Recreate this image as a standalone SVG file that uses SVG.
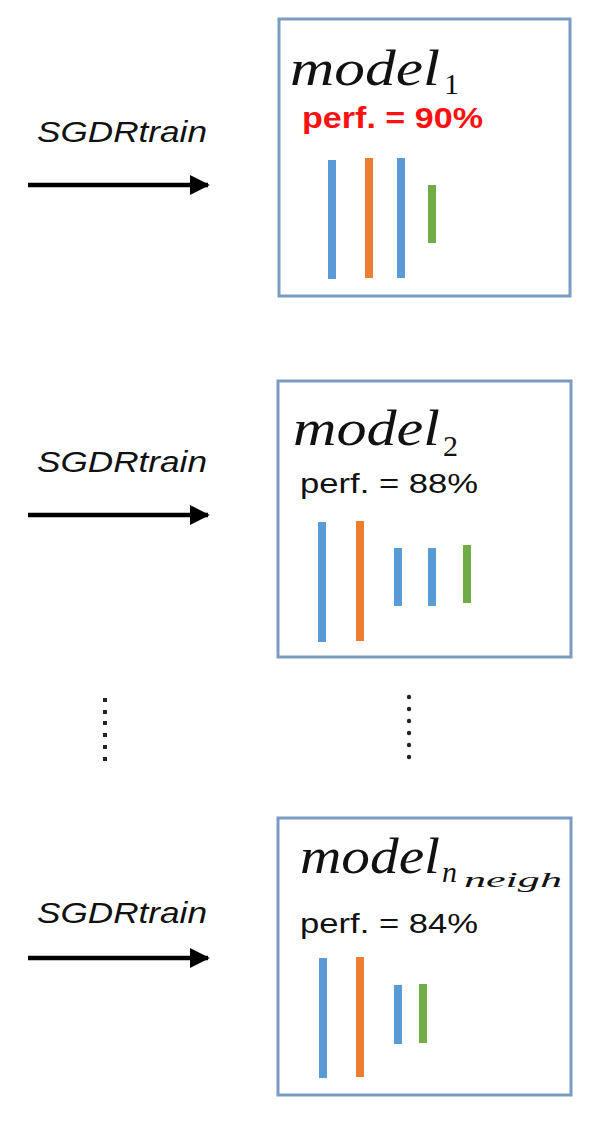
<svg xmlns="http://www.w3.org/2000/svg" width="601" height="1121" viewBox="0 0 601 1121">
<style>
.box{fill:#fff;stroke:#7B9CC2;stroke-width:3}
.lbl{font-family:"Liberation Sans",Arial,sans-serif;font-style:italic;font-size:30px;fill:#111}
.math{font-family:"Liberation Serif","DejaVu Serif",serif;font-style:italic;fill:#111}
.sub{font-family:"Liberation Serif","DejaVu Serif",serif;font-style:normal;fill:#111}
.perf{font-family:"Liberation Sans",Arial,sans-serif;font-size:27px;fill:#111}
.perfr{font-family:"Liberation Sans",Arial,sans-serif;font-size:29px;font-weight:bold;fill:#FF1010}
.b{stroke:#5B9BD5;stroke-width:8}
.o{stroke:#ED7D31;stroke-width:8}
.g{stroke:#70AD47;stroke-width:8}
.arr{stroke:#000;stroke-width:4.5;fill:none}
.dot{fill:#222}
</style>
<defs>
<marker id="ah" markerWidth="5" markerHeight="6" refX="4" refY="3" orient="auto" markerUnits="strokeWidth">
<path d="M0,0.8 L4.4,3 L0,5.2 z" fill="#000"/>
</marker>
</defs>

<g id="connectors">
<line class="arr" x1="28" y1="185" x2="208" y2="185" marker-end="url(#ah)"/>
<line class="arr" x1="28" y1="515" x2="208" y2="515" marker-end="url(#ah)"/>
<line class="arr" x1="28" y1="958" x2="208" y2="958" marker-end="url(#ah)"/>
</g>

<g id="labels">
<text class="lbl" x="37" y="142" textLength="170" lengthAdjust="spacingAndGlyphs">SGDRtrain</text>
<text class="lbl" x="37" y="472" textLength="170" lengthAdjust="spacingAndGlyphs">SGDRtrain</text>
<text class="lbl" x="37" y="923" textLength="170" lengthAdjust="spacingAndGlyphs">SGDRtrain</text>
</g>

<g id="model1">
<rect class="box" x="279" y="19" width="291" height="277"/>
<text class="math" x="290" y="85" font-size="50" textLength="150" lengthAdjust="spacingAndGlyphs">model</text>
<text class="sub" x="444" y="94" font-size="30">1</text>
<text class="perfr" x="302" y="128" textLength="181" lengthAdjust="spacingAndGlyphs">perf. = 90%</text>
<line class="b" x1="332" y1="160" x2="332" y2="279"/>
<line class="o" x1="369" y1="158" x2="369" y2="278"/>
<line class="b" x1="401" y1="158" x2="401" y2="278"/>
<line class="g" x1="432" y1="185" x2="432" y2="243"/>
</g>

<g id="model2">
<rect class="box" x="278" y="381" width="293" height="276"/>
<text class="math" x="293" y="445" font-size="50" textLength="147" lengthAdjust="spacingAndGlyphs">model</text>
<text class="sub" x="443" y="456" font-size="30">2</text>
<text class="perf" x="300" y="493" textLength="178" lengthAdjust="spacingAndGlyphs">perf. = 88%</text>
<line class="b" x1="322" y1="522" x2="322" y2="642"/>
<line class="o" x1="360" y1="521" x2="360" y2="641"/>
<line class="b" x1="398" y1="548" x2="398" y2="606"/>
<line class="b" x1="432" y1="548" x2="432" y2="606"/>
<line class="g" x1="467" y1="545" x2="467" y2="603"/>
</g>

<g id="dots">
<rect class="dot" x="103" y="698" width="4" height="4"/>
<rect class="dot" x="103" y="710" width="4" height="4"/>
<rect class="dot" x="103" y="721" width="4" height="4"/>
<rect class="dot" x="103" y="733" width="4" height="4"/>
<rect class="dot" x="103" y="745" width="4" height="4"/>
<rect class="dot" x="103" y="757" width="4" height="4"/>
<circle class="dot" cx="409" cy="697" r="2.2"/>
<circle class="dot" cx="409" cy="709" r="2.2"/>
<circle class="dot" cx="409" cy="721" r="2.2"/>
<circle class="dot" cx="409" cy="733" r="2.2"/>
<circle class="dot" cx="409" cy="745" r="2.2"/>
<circle class="dot" cx="409" cy="757" r="2.2"/>
</g>

<g id="model3">
<rect class="box" x="278" y="818" width="293" height="277"/>
<text class="math" x="300" y="873" font-size="50" textLength="140" lengthAdjust="spacingAndGlyphs">model</text>
<text class="math" x="442" y="882" font-size="30">n</text>
<text class="math" x="464" y="887" font-size="22" textLength="98" lengthAdjust="spacingAndGlyphs">neigh</text>
<text class="perf" x="300" y="933" textLength="178" lengthAdjust="spacingAndGlyphs">perf. = 84%</text>
<line class="b" x1="323" y1="958" x2="323" y2="1078"/>
<line class="o" x1="360" y1="957" x2="360" y2="1077"/>
<line class="b" x1="398" y1="985" x2="398" y2="1044"/>
<line class="g" x1="423" y1="984" x2="423" y2="1043"/>
</g>
</svg>
